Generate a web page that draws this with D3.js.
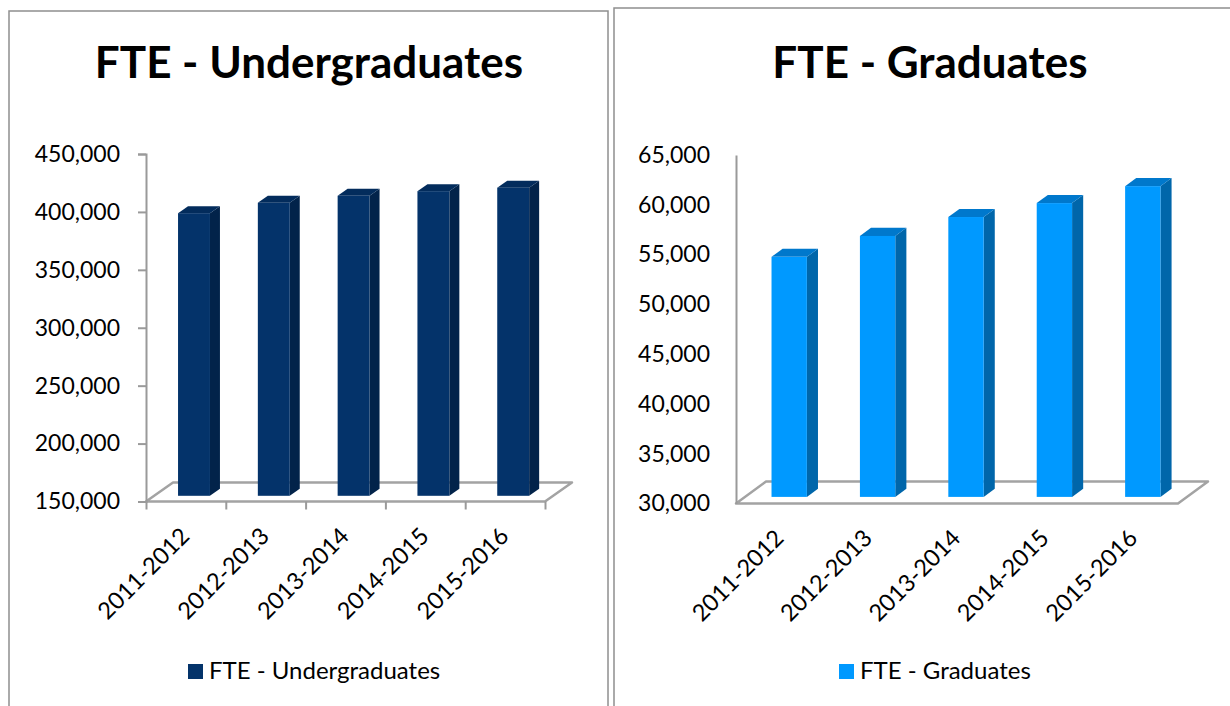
<!DOCTYPE html>
<html lang="en">
<head>
<meta charset="utf-8">
<title>FTE - Undergraduates / Graduates</title>
<style>
  body { margin: 0; background: #fff; }
  svg text { font-family: Lato, "Open Sans", sans-serif; fill: #000; }
  .axis .domain { stroke: #9a9a9a; stroke-width: 2; }
  .axis .tick line { stroke: #9a9a9a; stroke-width: 2; }
  .axis .tick text { font-size: 23px; }
  .floor { fill: none; stroke: #a3a3a3; stroke-width: 2.5; stroke-linejoin: round; }
  .cat { font-size: 23.5px; }
  .title { font-size: 44px; font-weight: bold; }
  .legend { font-size: 24px; }
</style>
</head>
<body>
<div id="chart"></div>
<script src="https://d3js.org/d3.v7.min.js"></script>
<script>
// data
var categories = ['2011-2012', '2012-2013', '2013-2014', '2014-2015', '2015-2016'];
var undergradValues = [394000, 403000, 409000, 413000, 416000];
var gradValues = [54100, 56200, 58100, 59500, 61200];
var undergradTicks = [150000, 200000, 250000, 300000, 350000, 400000, 450000];
var gradTicks = [30000, 35000, 40000, 45000, 50000, 55000, 60000, 65000];

var width = 1230, height = 706;

var svg = d3.select('#chart')
  .append('svg')
  .attr('width', width)
  .attr('height', height);

// panel borders
svg.append('rect').attr('x', 9).attr('y', 11).attr('width', 599).attr('height', 720)
  .attr('fill', 'none').attr('stroke', '#8f8f8f').attr('stroke-width', 1.5);
svg.append('rect').attr('x', 614).attr('y', 8).attr('width', 640).attr('height', 720)
  .attr('fill', 'none').attr('stroke', '#8f8f8f').attr('stroke-width', 1.5);

function drawChart(cfg) {
  var g = svg.append('g');

  var x = d3.scaleBand()
    .domain(categories)
    .range([cfg.x0, cfg.x1])
    .paddingInner(0.6)
    .paddingOuter(0.3);

  var y = d3.scaleLinear()
    .domain([cfg.ticks[0], cfg.ticks[cfg.ticks.length - 1]])
    .range([cfg.yBase, cfg.yTop]);

  // title
  g.append('text')
    .attr('class', 'title')
    .attr('x', cfg.cx)
    .attr('y', 78)
    .attr('text-anchor', 'middle')
    .text(cfg.title);

  // floor
  var dx = cfg.ddx, dy = cfg.ddy;
  g.append('path')
    .attr('class', 'floor')
    .attr('d', d3.line()([
      [cfg.x0, cfg.yBase], [cfg.x0 + dx, cfg.yBase + dy],
      [cfg.x1 + dx, cfg.yBase + dy], [cfg.x1, cfg.yBase]
    ]) + 'Z');

  // y axis
  g.append('g')
    .attr('class', 'axis')
    .attr('transform', 'translate(' + cfg.x0 + ',0)')
    .call(d3.axisLeft(y)
      .tickValues(cfg.ticks)
      .tickFormat(d3.format(','))
      .tickSize(cfg.tickSize)
      .tickPadding(cfg.tickPad));

  // x tick marks
  if (cfg.tickSize > 0) {
    var xi = d3.scaleLinear().domain([0, categories.length]).range([cfg.x0, cfg.x1]);
    var xa = g.append('g')
      .attr('class', 'axis')
      .attr('transform', 'translate(0,' + cfg.yBase + ')')
      .call(d3.axisBottom(xi).tickValues(d3.range(categories.length + 1))
        .tickSize(cfg.tickSize).tickFormat(''));
    xa.select('.domain').remove();
  }

  // 3d columns
  var d1 = 0.3, d2 = 0.67;
  var bars = g.selectAll('.bar')
    .data(cfg.values)
    .enter()
    .append('g')
    .attr('class', 'bar');

  bars.append('path')
    .attr('fill', cfg.colors.side)
    .attr('d', function(d, i) {
      var bx = x(categories[i]) + x.bandwidth(), yt = y(d);
      return d3.line()([
        [bx + d1 * dx, yt + d1 * dy], [bx + d2 * dx, yt + d2 * dy],
        [bx + d2 * dx, cfg.yBase + d2 * dy], [bx + d1 * dx, cfg.yBase + d1 * dy]
      ]) + 'Z';
    });

  bars.append('path')
    .attr('fill', cfg.colors.top)
    .attr('d', function(d, i) {
      var bx = x(categories[i]), bw = x.bandwidth(), yt = y(d);
      return d3.line()([
        [bx + d1 * dx, yt + d1 * dy], [bx + d2 * dx, yt + d2 * dy],
        [bx + bw + d2 * dx, yt + d2 * dy], [bx + bw + d1 * dx, yt + d1 * dy]
      ]) + 'Z';
    });

  bars.append('rect')
    .attr('fill', cfg.colors.front)
    .attr('x', function(d, i) { return x(categories[i]) + d1 * dx; })
    .attr('y', function(d) { return y(d) + d1 * dy; })
    .attr('width', x.bandwidth())
    .attr('height', function(d) { return cfg.yBase - y(d); });

  // category labels
  g.selectAll('.cat')
    .data(categories)
    .enter()
    .append('text')
    .attr('class', 'cat')
    .attr('text-anchor', 'end')
    .attr('transform', function(d) {
      var cx = x(d) + x.bandwidth() / 2 + 5;
      return 'translate(' + cx + ',' + (cfg.yBase + 36) + ') rotate(-45)';
    })
    .text(function(d) { return d; });

  // legend
  g.append('rect')
    .attr('x', cfg.legendX)
    .attr('y', 664)
    .attr('width', 15)
    .attr('height', 15)
    .attr('fill', cfg.colors.front);
  g.append('text')
    .attr('class', 'legend')
    .attr('x', cfg.legendX + 21)
    .attr('y', 679)
    .text(cfg.title);
}

drawChart({
  title: 'FTE - Undergraduates',
  values: undergradValues,
  ticks: undergradTicks,
  cx: 309,
  x0: 146, x1: 545,
  yBase: 501.5, yTop: 154,
  ddx: 27, ddy: -19,
  tickSize: 8, tickPad: 18,
  legendX: 188,
  colors: { front: '#04336a', side: '#02234a', top: '#032c5c' }
});

drawChart({
  title: 'FTE - Graduates',
  values: gradValues,
  ticks: gradTicks,
  cx: 930,
  x0: 736, x1: 1178,
  yBase: 503.5, yTop: 154.9,
  ddx: 30, ddy: -22,
  tickSize: 0, tickPad: 26,
  legendX: 839,
  colors: { front: '#0099ff', side: '#0066aa', top: '#0078cc' }
});
</script>
</body>
</html>
